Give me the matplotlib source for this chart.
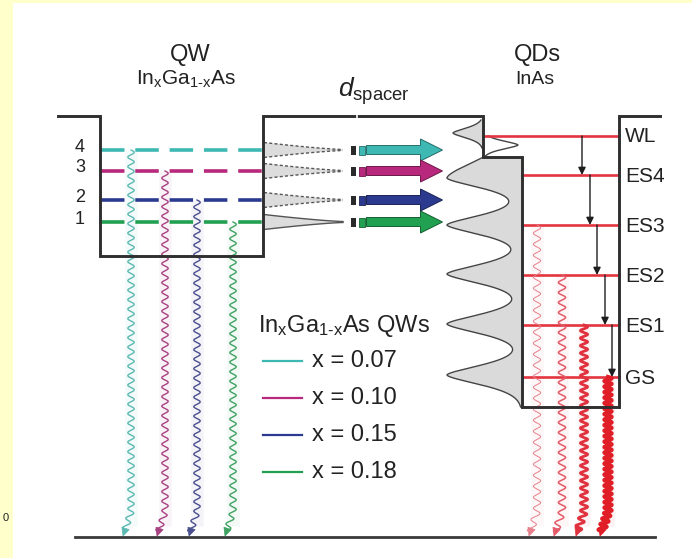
import numpy as np
import matplotlib
matplotlib.use('Agg')
import matplotlib.pyplot as plt
from matplotlib.patches import Rectangle, Polygon, FancyArrow

plt.rcParams['font.family'] = ['Liberation Sans', 'DejaVu Sans']
plt.rcParams['mathtext.fontset'] = 'custom'
plt.rcParams['mathtext.rm'] = 'Liberation Sans'
plt.rcParams['mathtext.it'] = 'Liberation Sans:italic'

# ---------------- data ----------------
qw_labels = ['4', '3', '2', '1']
qw_levels = [150, 171, 200, 222]
qw_colors = ['#3DB8B2', '#B8287C', '#2B3A8E', '#22A052']
qw_wave_colors = ['#5CB9B2', '#A84282', '#4A4F8E', '#3FA263']
qw_x_values = ['0.07', '0.10', '0.15', '0.18']
qw_wave_x = [131, 165, 197, 233]

qd_labels = ['WL', 'ES4', 'ES3', 'ES2', 'ES1', 'GS']
qd_levels = [136, 175, 225, 275, 325, 377]
relax_x = [582, 590, 597, 605, 612]
qd_wave_x = [537, 562, 584, 608]
qd_wave_start = [2, 3, 4, 5]
qd_wave_lw = [0.7, 1.1, 2.0, 3.0]
qd_wave_period = [11, 10, 7.5, 5.5]
qd_wave_colors = ['#E7808C', '#E45A68', '#E0323E', '#E01E28']
dos_centers = [178, 225, 274, 324, 375]

legend_y = [361, 398, 435, 472]

# ---------------- figure ----------------
fig = plt.figure(figsize=(6.92, 5.58), dpi=100, facecolor='#FFFFCC')
ax = fig.add_axes([0, 0, 1, 1])
ax.set_xlim(0, 692)
ax.set_ylim(558, 0)
ax.axis('off')
ax.add_patch(Rectangle((13, 3), 700, 600, facecolor='white', edgecolor='none', zorder=0))
ax.text(6, 518, '0', fontsize=8, ha='center', va='center', color='#222')

# band outline
bx = [58, 100, 100, 263, 263, 483, 483, 522, 522, 619, 619, 660]
by = [116, 116, 256, 256, 116, 116, 157, 157, 407, 407, 116, 116]
ax.plot(bx, by, color='#2f2f2f', lw=2.1, solid_joinstyle='miter', zorder=6)
ax.plot([357, 357], [113, 119], color='white', lw=1.2, zorder=7)
# ground line
ax.plot([75, 655], [537, 537], color='#3a3a3a', lw=2.0, zorder=6)

# QW levels
for lab, y, c in zip(qw_labels, qw_levels, qw_colors):
    ax.plot([101, 262], [y, y], color=c, lw=2.6, dashes=(6.5, 3.0), zorder=4)
    ax.text(80, y - 3, lab, fontsize=13, ha='center', va='center', color='#222')

# tunnelling funnels into spacer
t = np.linspace(0, 1, 80)
for i, y in enumerate(qw_levels):
    tip = 343
    xs = 264 + t * (tip - 264)
    w = 7.0 * (1 - t) ** 1.3 + 0.5
    px = np.concatenate([xs, xs[::-1]])
    py = np.concatenate([y - w, (y + w)[::-1]])
    ls = '-' if i == 3 else (0, (2.2, 1.6))
    ax.add_patch(Polygon(np.c_[px, py], closed=True, facecolor='#DCDCDC',
                         edgecolor='none', zorder=2))
    ax.plot(xs, y - w, color='#555', lw=1.0, ls=ls, zorder=3)
    ax.plot(xs, y + w, color='#555', lw=1.0, ls=ls, zorder=3)

# arrows across the spacer
def darker(c, f=0.6):
    r, g, b = matplotlib.colors.to_rgb(c)
    return (r * f, g * f, b * f)

for y, c in zip(qw_levels, qw_colors):
    ax.add_patch(Rectangle((351, y - 4.5), 5, 9, facecolor='#2a2a2a', edgecolor='none', zorder=5))
    ax.add_patch(Rectangle((358.5, y - 4.5), 6.5, 9, facecolor=c, edgecolor=darker(c), lw=0.6, zorder=5))
    ax.add_patch(FancyArrow(366.5, y, 76, 0, width=9, head_width=22, head_length=22,
                            length_includes_head=True, facecolor=c, edgecolor=darker(c),
                            lw=0.7, zorder=5))

# QD density of states lobes
ys = np.linspace(157, 407, 800)
prof = np.zeros_like(ys)
for k, c in enumerate(dos_centers):
    d = ys - c
    s = np.where((d < 0) & (k == 0), 27.0, 13.5)
    prof += np.exp(-(np.abs(d) / s) ** 1.6)
xcurve = 522 - 75 * prof
ax.fill_betweenx(ys, xcurve, 522, color='#DADADA', zorder=2, lw=0)
ax.plot(xcurve, ys, color='#444', lw=1.0, zorder=3)

# WL lobe
yw = np.linspace(120, 148, 200)
xw = 483 - 30 * np.exp(-(np.abs(yw - 133) / 7.0) ** 1.6)
ax.fill_betweenx(yw, xw, 483, color='#DADADA', zorder=2, lw=0)
ax.plot(xw, yw, color='#444', lw=1.0, zorder=3)
yb = np.linspace(136, 158, 200)
xb = 483 + 35 * np.exp(-(np.abs(yb - 145) / 6.0) ** 1.6)
ax.plot(xb, yb, color='#444', lw=1.0, zorder=3)

# QD levels
for k, (lab, y) in enumerate(zip(qd_labels, qd_levels)):
    x0 = 483 if k == 0 else 522
    ax.plot([x0, 619], [y, y], color='#E4343F', lw=1.9, zorder=4)
    ax.text(625, y + 1, lab, fontsize=15, ha='left', va='center', color='#222')

# relaxation arrows
for k, x in enumerate(relax_x):
    ax.annotate('', xy=(x, qd_levels[k + 1]), xytext=(x, qd_levels[k]),
                arrowprops=dict(arrowstyle='-|>', color='#1e1e1e', lw=1.0,
                                mutation_scale=11, shrinkA=0, shrinkB=0), zorder=5)

# wavy emission lines
def wave(x0, y0, y1, color, lw, period, amp, bend=8, bend_len=24, glow=True):
    yy = np.linspace(y0, y1 - 5, 1500)
    yb0 = y1 - bend_len
    xc = np.where(yy < yb0, x0, x0 - bend * (yy - yb0) / bend_len)
    xx = xc + amp * np.sin(2 * np.pi * (yy - y0) / period)
    if glow:
        ax.plot([x0, x0], [y0, y1 - 10], color=color, lw=9, alpha=0.06, zorder=1,
                solid_capstyle='butt')
    ax.plot(xx, yy, color=color, lw=lw, zorder=4)
    tipx, tipy = x0 - bend, y1
    dx, dy = -bend, bend_len
    n = np.hypot(dx, dy)
    ux, uy = dx / n, dy / n
    L, W = 8, 3.8
    bxh, byh = tipx - ux * L, tipy - uy * L
    pts = [(tipx, tipy), (bxh + uy * W, byh - ux * W), (bxh - uy * W, byh + ux * W)]
    ax.add_patch(Polygon(pts, closed=True, facecolor=color, edgecolor=color, lw=0.5, zorder=4))

for x, y, c in zip(qw_wave_x, qw_levels, qw_wave_colors):
    wave(x, y, 536, c, 1.0, 9.5, 3.2)

for x, si, lw, per, c in zip(qd_wave_x, qd_wave_start, qd_wave_lw, qd_wave_period, qd_wave_colors):
    wave(x, qd_levels[si], 536, c, lw, per, 3.6)

# legend
ax.text(258, 326, r'In$_{\mathregular{x}}$Ga$_{\mathregular{1\text{-}x}}$As QWs', fontsize=17,
        ha='left', va='center', color='#222')
for y, c, v in zip(legend_y, qw_colors, qw_x_values):
    ax.plot([263, 302], [y, y], color=c, lw=1.6, zorder=4)
    ax.text(312, y, 'x = ' + v, fontsize=17, ha='left', va='center', color='#222')

# titles
ax.text(190, 55, 'QW', fontsize=17, ha='center', va='center', color='#222')
ax.text(186, 79, r'In$_{\mathregular{x}}$Ga$_{\mathregular{1\text{-}x}}$As', fontsize=15,
        ha='center', va='center', color='#222')
ax.text(338, 97, r'$d_{\mathregular{spacer}}$', fontsize=19, ha='left', va='baseline', color='#222')
ax.text(537, 55, 'QDs', fontsize=17, ha='center', va='center', color='#222')
ax.text(535, 79, 'InAs', fontsize=14, ha='center', va='center', color='#222')

fig.savefig('out.png', dpi=100, facecolor=fig.get_facecolor())
